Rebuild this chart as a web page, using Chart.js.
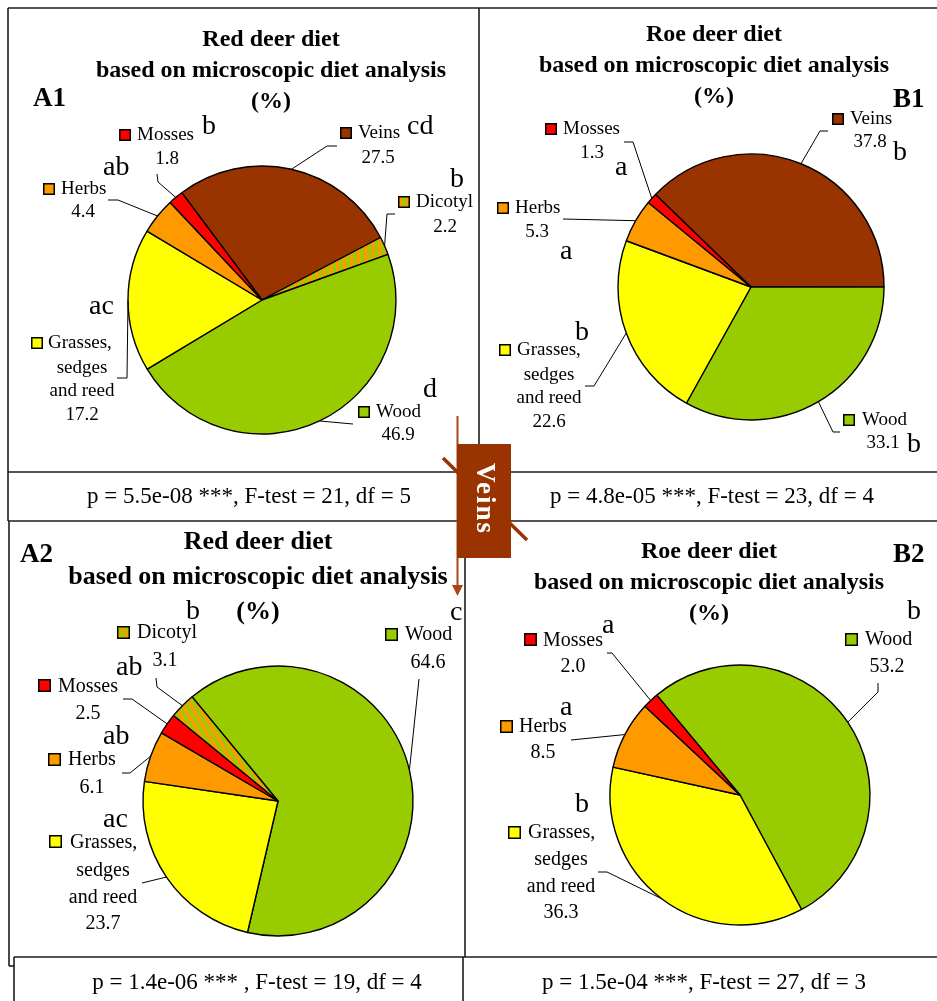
<!DOCTYPE html>
<html>
<head>
<meta charset="utf-8">
<script src="https://cdn.jsdelivr.net/npm/chart.js@4.4.1/dist/chart.umd.min.js"></script>
<style>
  html, body { margin: 0; padding: 0; background: #ffffff; }
  #wrap { position: relative; width: 937px; height: 1001px; overflow: hidden; background: #ffffff; }
  #wrap canvas { position: absolute; left: 0; top: 0; }
</style>
</head>
<body>
<div id="wrap">
  <canvas id="pieA1" width="937" height="1001"></canvas>
  <canvas id="pieB1" width="937" height="1001"></canvas>
  <canvas id="pieA2" width="937" height="1001"></canvas>
  <canvas id="pieB2" width="937" height="1001"></canvas>
</div>
<script>
// ---- Diet composition (%) ----
const redDeer1Categories = ['Veins', 'Dicotyl', 'Wood', 'Grasses, sedges and reed', 'Herbs', 'Mosses'];
const redDeer1Values     = [27.5, 2.2, 46.9, 17.2, 4.4, 1.8];
const redDeer1Letters    = ['cd', 'b', 'd', 'ac', 'ab', 'b'];

const roeDeer1Categories = ['Veins', 'Wood', 'Grasses, sedges and reed', 'Herbs', 'Mosses'];
const roeDeer1Values     = [37.8, 33.1, 22.6, 5.3, 1.3];
const roeDeer1Letters    = ['b', 'b', 'b', 'a', 'a'];

const redDeer2Categories = ['Wood', 'Grasses, sedges and reed', 'Herbs', 'Mosses', 'Dicotyl'];
const redDeer2Values     = [64.6, 23.7, 6.1, 2.5, 3.1];
const redDeer2Letters    = ['c', 'ac', 'ab', 'ab', 'b'];

const roeDeer2Categories = ['Wood', 'Grasses, sedges and reed', 'Herbs', 'Mosses'];
const roeDeer2Values     = [53.2, 36.3, 8.5, 2.0];
const roeDeer2Letters    = ['b', 'b', 'a', 'a'];

const statLines = [
  'p = 5.5e-08 ***, F-test = 21, df = 5',
  'p = 4.8e-05 ***, F-test = 23, df = 4',
  'p = 1.4e-06 *** , F-test = 19, df = 4',
  'p = 1.5e-04 ***, F-test = 27, df = 3'
];
const titleLines = ['based on microscopic diet analysis', '(%)'];

// ---- Styling ----
const W = 937, H = 1001;
const SERIF = '"Liberation Serif", "Times New Roman", serif';
const INK = '#000000';
const FRAME = '#1c1c1c';
const VEINS_BROWN = '#993300';

const fills = {
  'Veins': '#993300',
  'Wood': '#99CC00',
  'Grasses, sedges and reed': '#FFFF00',
  'Herbs': '#FF9900',
  'Mosses': '#FF0000'
};
const nameLines = {
  'Grasses, sedges and reed': ['Grasses,', 'sedges', 'and reed']
};

function stripePattern(angle) {
  const tile = document.createElement('canvas');
  tile.width = 7; tile.height = 7;
  const c = tile.getContext('2d');
  c.fillStyle = '#99CC00'; c.fillRect(0, 0, 7, 7);
  c.fillStyle = '#FF9900'; c.fillRect(0, 0, 3.5, 7);
  const p = c.createPattern(tile, 'repeat');
  p.setTransform(new DOMMatrix().rotate(angle));
  return p;
}

function fillFor(cat, stripeAngle) {
  return cat === 'Dicotyl' ? stripePattern(stripeAngle) : fills[cat];
}

// ---- Panel layout (page coordinates) ----
const panels = [
  {
    id: 'pieA1', cats: redDeer1Categories, values: redDeer1Values, letters: redDeer1Letters,
    cx: 262, cy: 300, r: 134, rotation: -36.8, stripeAngle: 0,
    labelSize: 19, keySize: 12,
    title: { text: 'Red deer diet', x: 271, ys: [40, 71, 102], size: 24 },
    tag: { text: 'A1', x: 33, y: 99 },
    layout: {
      'Veins':   { key: [340, 127], name: [358, 133], val: [378, 158], letter: [407, 127], path: [[337, 146], [327, 146]] },
      'Dicotyl': { key: [398, 196], name: [416, 202], val: [445, 227], letter: [450, 180], path: [[395, 214], [387, 214]] },
      'Wood':    { key: [358, 406], name: [376, 412], val: [398, 435], letter: [423, 390], path: [[353, 424]] },
      'Grasses, sedges and reed': { key: [31, 337], name: [48, 343], sub: [82, 368, 391], val: [82, 415], letter: [89, 307], path: [[117, 378], [127, 378]] },
      'Herbs':   { key: [43, 183], name: [61, 189], val: [83, 212], letter: [103, 168], path: [[108, 200], [118, 200]] },
      'Mosses':  { key: [119, 129], name: [137, 135], val: [167, 159], letter: [202, 127], path: [[157, 174], [158, 182]] }
    }
  },
  {
    id: 'pieB1', cats: roeDeer1Categories, values: roeDeer1Values, letters: roeDeer1Letters,
    cx: 751, cy: 287, r: 133, rotation: -45.9, stripeAngle: 0,
    labelSize: 19, keySize: 12,
    title: { text: 'Roe deer diet', x: 714, ys: [35, 66, 97], size: 24 },
    tag: { text: 'B1', x: 893, y: 100 },
    layout: {
      'Veins':   { key: [832, 113], name: [850, 119], val: [870, 142], letter: [893, 153], path: [[828, 131], [820, 131]] },
      'Wood':    { key: [843, 414], name: [862, 420], val: [883, 443], letter: [907, 445], path: [[840, 432], [833, 432]] },
      'Grasses, sedges and reed': { key: [499, 344], name: [517, 350], sub: [549, 375, 398], val: [549, 422], letter: [575, 333], path: [[585, 386], [594, 386]] },
      'Herbs':   { key: [497, 202], name: [515, 208], val: [537, 232], letter: [560, 252], path: [[563, 219]] },
      'Mosses':  { key: [545, 123], name: [563, 129], val: [592, 153], letter: [615, 168], path: [[624, 142], [633, 142]] }
    }
  },
  {
    id: 'pieA2', cats: redDeer2Categories, values: redDeer2Values, letters: redDeer2Letters,
    cx: 278, cy: 801, r: 135, rotation: -39.5, stripeAngle: -30,
    labelSize: 20, keySize: 13,
    title: { text: 'Red deer diet', x: 258, ys: [542, 577, 612], size: 26 },
    tag: { text: 'A2', x: 20, y: 555 },
    layout: {
      'Wood':    { key: [385, 628], name: [405, 635], val: [428, 663], letter: [450, 613], path: [[419, 679]] },
      'Grasses, sedges and reed': { key: [49, 835], name: [70, 843], sub: [103, 871, 898], val: [103, 924], letter: [103, 820], path: [[142, 883]] },
      'Herbs':   { key: [48, 753], name: [68, 760], val: [92, 788], letter: [103, 737], path: [[122, 773], [130, 773]] },
      'Mosses':  { key: [38, 679], name: [58, 687], val: [88, 714], letter: [116, 668], path: [[123, 699], [132, 699]] },
      'Dicotyl': { key: [117, 626], name: [137, 633], val: [165, 661], letter: [186, 612], path: [[156, 678], [157, 687]] }
    }
  },
  {
    id: 'pieB2', cats: roeDeer2Categories, values: roeDeer2Values, letters: roeDeer2Letters,
    cx: 740, cy: 795, r: 130, rotation: -39.8, stripeAngle: 0,
    labelSize: 20, keySize: 13,
    title: { text: 'Roe deer diet', x: 709, ys: [552, 583, 614], size: 24 },
    tag: { text: 'B2', x: 893, y: 555 },
    layout: {
      'Wood':    { key: [845, 633], name: [865, 640], val: [887, 667], letter: [907, 612], path: [[878, 683], [878, 692]] },
      'Grasses, sedges and reed': { key: [508, 826], name: [528, 833], sub: [561, 860, 887], val: [561, 913], letter: [575, 805], path: [[598, 872], [607, 872]] },
      'Herbs':   { key: [500, 720], name: [519, 727], val: [543, 753], letter: [560, 708], path: [[571, 740]] },
      'Mosses':  { key: [524, 633], name: [543, 641], val: [573, 667], letter: [602, 626], path: [[607, 653], [612, 653]] }
    }
  }
];

// Titles, panel tags, keys, values, significance letters and leader lines
function panelAnnotations(panel) {
  return {
    id: 'annot_' + panel.id,
    afterDraw(chart) {
      const ctx = chart.ctx;
      const meta = chart.getDatasetMeta(0);
      ctx.save();
      ctx.fillStyle = INK;
      ctx.textBaseline = 'middle';

      // title
      ctx.textAlign = 'center';
      ctx.font = 'bold ' + panel.title.size + 'px ' + SERIF;
      ctx.fillText(panel.title.text, panel.title.x, panel.title.ys[0]);
      ctx.fillText(titleLines[0], panel.title.x, panel.title.ys[1]);
      ctx.fillText(titleLines[1], panel.title.x, panel.title.ys[2]);

      // panel tag
      ctx.textAlign = 'left';
      ctx.font = 'bold 27px ' + SERIF;
      ctx.fillText(panel.tag.text, panel.tag.x, panel.tag.y);

      panel.cats.forEach((cat, i) => {
        const L = panel.layout[cat];
        const arc = meta.data[i];
        const p = arc.getProps(['x', 'y', 'startAngle', 'endAngle', 'outerRadius'], true);
        const mid = (p.startAngle + p.endAngle) / 2;
        const ex = p.x + Math.cos(mid) * p.outerRadius;
        const ey = p.y + Math.sin(mid) * p.outerRadius;

        // leader line to the slice
        ctx.strokeStyle = INK;
        ctx.lineWidth = 1;
        ctx.beginPath();
        ctx.moveTo(L.path[0][0], L.path[0][1]);
        for (let k = 1; k < L.path.length; k++) ctx.lineTo(L.path[k][0], L.path[k][1]);
        ctx.lineTo(ex, ey);
        ctx.stroke();

        // colour key
        const ks = panel.keySize;
        ctx.fillStyle = arc.options.backgroundColor;
        ctx.fillRect(L.key[0], L.key[1], ks, ks);
        ctx.strokeStyle = INK;
        ctx.lineWidth = 1.5;
        ctx.strokeRect(L.key[0] + 0.75, L.key[1] + 0.75, ks - 1.5, ks - 1.5);

        // category name and value
        ctx.fillStyle = INK;
        ctx.font = panel.labelSize + 'px ' + SERIF;
        const lines = nameLines[cat] || [cat];
        ctx.textAlign = 'left';
        ctx.fillText(lines[0], L.name[0], L.name[1]);
        ctx.textAlign = 'center';
        for (let k = 1; k < lines.length; k++) ctx.fillText(lines[k], L.sub[0], L.sub[k]);
        ctx.fillText(panel.values[i].toFixed(1), L.val[0], L.val[1]);

        // significance letters
        ctx.textAlign = 'left';
        ctx.font = '28px ' + SERIF;
        ctx.fillText(panel.letters[i], L.letter[0], L.letter[1]);
      });
      ctx.restore();
    }
  };
}

// Frames, test statistics and the central "Veins" marker
const figureFrame = {
  id: 'figureFrame',
  afterDraw(chart) {
    const ctx = chart.ctx;
    ctx.save();
    ctx.strokeStyle = FRAME;
    ctx.lineWidth = 1.6;
    const seg = (x1, y1, x2, y2) => { ctx.beginPath(); ctx.moveTo(x1, y1); ctx.lineTo(x2, y2); ctx.stroke(); };
    seg(8, 8, W, 8);
    seg(8, 8, 8, 521);
    seg(479, 8, 479, 472);
    seg(8, 472, W, 472);
    seg(8, 521, W, 521);
    seg(479, 472, 479, 521);
    seg(9, 521, 9, 966);
    seg(9, 966, 14, 966);
    seg(465, 521, 465, 957);
    seg(14, 957, W, 957);
    seg(14, 957, 14, H);
    seg(463, 957, 463, H);

    ctx.fillStyle = INK;
    ctx.textAlign = 'center';
    ctx.textBaseline = 'middle';
    ctx.font = '23px ' + SERIF;
    ctx.fillText(statLines[0], 249, 497);
    ctx.fillText(statLines[1], 712, 497);
    ctx.fillText(statLines[2], 257, 983);
    ctx.fillText(statLines[3], 704, 983);

    // arrow and crossing stroke
    ctx.strokeStyle = '#a8441a';
    ctx.lineWidth = 2;
    seg(457.5, 416, 457.5, 588);
    ctx.fillStyle = '#a8441a';
    ctx.beginPath();
    ctx.moveTo(452, 585); ctx.lineTo(463, 585); ctx.lineTo(457.5, 596); ctx.closePath(); ctx.fill();
    ctx.strokeStyle = VEINS_BROWN;
    ctx.lineWidth = 3.5;
    seg(443, 458, 527, 540);

    // marker box
    ctx.fillStyle = VEINS_BROWN;
    ctx.fillRect(457, 444, 54, 114);
    ctx.translate(484, 499);
    ctx.rotate(Math.PI / 2);
    ctx.fillStyle = '#ffffff';
    ctx.font = 'bold 27px ' + SERIF;
    ctx.letterSpacing = '2px';
    ctx.textAlign = 'center';
    ctx.textBaseline = 'middle';
    ctx.fillText('Veins', 0, 0);
    ctx.restore();
  }
};

panels.forEach((panel, idx) => {
  const pad = 4;
  const extra = [panelAnnotations(panel)];
  if (idx === panels.length - 1) extra.push(figureFrame);
  new Chart(document.getElementById(panel.id), {
    type: 'pie',
    data: {
      labels: panel.cats,
      datasets: [{
        data: panel.values,
        backgroundColor: panel.cats.map(c => fillFor(c, panel.stripeAngle)),
        borderColor: '#000000',
        borderWidth: 1.4
      }]
    },
    options: {
      responsive: false,
      animation: false,
      devicePixelRatio: 1,
      events: [],
      rotation: panel.rotation,
      radius: panel.r,
      layout: {
        padding: {
          left: panel.cx - panel.r - pad,
          top: panel.cy - panel.r - pad,
          right: W - panel.cx - panel.r - pad,
          bottom: H - panel.cy - panel.r - pad
        }
      },
      plugins: { legend: { display: false }, tooltip: { enabled: false }, title: { display: false } }
    },
    plugins: extra
  });
});
</script>
</body>
</html>
